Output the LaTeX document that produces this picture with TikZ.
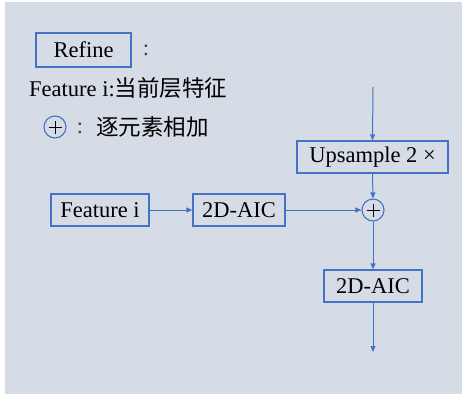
\documentclass[tikz,border=0pt]{standalone}
\usepackage{fontspec}
\setmainfont{Liberation Serif}
\newfontfamily\cjk{Noto Sans CJK SC}
\usetikzlibrary{arrows.meta}
\definecolor{bg}{HTML}{D6DCE5}
\definecolor{ln}{HTML}{4472C4}
\tikzset{
  box/.style={draw=ln, line width=1.2pt, inner sep=0pt, text=black, font=\fontsize{22.5}{26}\selectfont},
  conn/.style={draw=ln, line width=1pt, -{Triangle[length=6pt,width=5pt]}},
  addop/.style={circle, draw=ln, line width=1.1pt, minimum size=22pt, inner sep=0pt},
  txt/.style={inner sep=0pt, text=black, font=\fontsize{22.5}{26}\selectfont},
}
\newcommand{\plusmark}[1]{\draw[black, line width=0.9pt] ([xshift=-6.5pt]#1.center) -- ([xshift=6.5pt]#1.center) ([yshift=-6.5pt]#1.center) -- ([yshift=6.5pt]#1.center);}
\begin{document}
\begin{tikzpicture}[x=1pt,y=-1pt]
\useasboundingbox (0,0) rectangle (463,394);
\fill[bg] (5,2) rectangle (462,394);
% legend
\node[box, minimum width=95pt, minimum height=34pt] (refine) at (83.5,50) {Refine};
\node[txt, text=black!75] (colon1) at (146,50) {:};
\node[txt, anchor=west] (featlbl) at (29,88) {Feature i:{\cjk 当前层特征}};
\node[addop] (legplus) at (55,127) {};
\plusmark{legplus}
\node[txt, text=black!75] (colon2) at (80,128) {:};
\node[txt, anchor=west] (addlbl) at (96,127) {\cjk 逐元素相加};
% diagram
\coordinate (top) at (373,87);
\node[box, minimum width=151pt, minimum height=32pt] (up) at (372.5,157) {Upsample 2 ×};
\node[box, minimum width=98pt, minimum height=32pt] (feat) at (100,210) {Feature i};
\node[box, minimum width=92pt, minimum height=32pt] (aic1) at (239,210) {2D-AIC};
\node[addop] (add) at (373,210) {};
\plusmark{add}
\node[box, minimum width=98pt, minimum height=32pt] (aic2) at (373,286) {2D-AIC};
\coordinate (out) at (373,352);
\draw[conn] (top) -- (up.north);
\draw[conn] (up.south) -- (add.north);
\draw[conn] (feat.east) -- (aic1.west);
\draw[conn] (aic1.east) -- (add.west);
\draw[conn] (add.south) -- (aic2.north);
\draw[conn] (aic2.south) -- (out);
\end{tikzpicture}
\end{document}
